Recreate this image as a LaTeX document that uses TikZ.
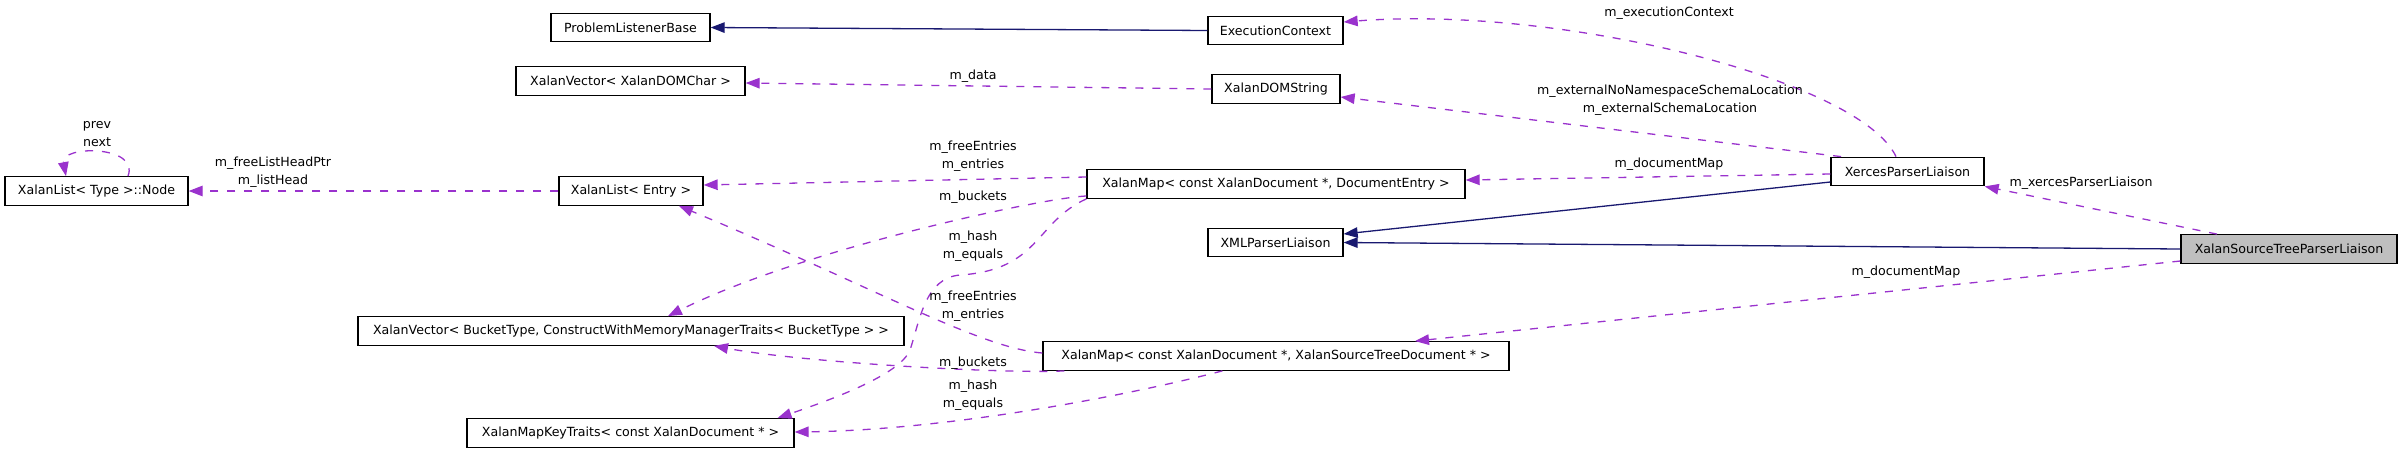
\documentclass[tikz,border=0pt]{standalone}
\usepackage{fontspec}
\setmainfont{DejaVu Sans}
\usetikzlibrary{arrows.meta}
\definecolor{edgepurple}{HTML}{9A32CD}
\definecolor{inhnavy}{HTML}{191970}
\definecolor{curgray}{HTML}{BFBFBF}
\begin{document}
\begin{tikzpicture}[x=1pt,y=-1pt,
  cls/.style={draw=black, line width=1.3pt, fill=white, minimum height=28.5pt, inner sep=0pt, font=\fontsize{12.6}{18}\selectfont},
  lbl/.style={align=center, inner sep=0pt, font=\fontsize{12.6}{18}\selectfont},
  use/.style={edgepurple, line width=1.3pt, dash pattern=on 8pt off 9pt, -{Triangle[length=14pt,width=10.5pt]}},
  inh/.style={inhnavy, line width=1.3pt, -{Triangle[length=14pt,width=10.5pt]}},
]
\useasboundingbox (0,0) rectangle (2403,453);

% classes
\node[cls, minimum width=159pt] (plb) at (630.5,27.5) {ProblemListenerBase};
\node[cls, minimum width=229pt] (xvdc) at (630.5,81) {XalanVector< XalanDOMChar >};
\node[cls, minimum width=135pt] (ec) at (1275.5,30.5) {ExecutionContext};
\node[cls, minimum width=128pt] (xds) at (1276,89) {XalanDOMString};
\node[cls, minimum width=183pt] (lnode) at (96.5,191) {XalanList< Type >::Node};
\node[cls, minimum width=144pt] (xle) at (631,191) {XalanList< Entry >};
\node[cls, minimum width=378pt] (xmde) at (1276,184) {XalanMap< const XalanDocument *, DocumentEntry >};
\node[cls, minimum width=546pt] (xvbt) at (631,331) {XalanVector< BucketType, ConstructWithMemoryManagerTraits< BucketType > >};
\node[cls, minimum width=135pt] (xmlpl) at (1275.5,242.5) {XMLParserLiaison};
\node[cls, minimum width=153pt] (xpl) at (1907.5,171.5) {XercesParserLiaison};
\node[cls, minimum width=216pt, fill=curgray] (xstpl) at (2289,249) {XalanSourceTreeParserLiaison};
\node[cls, minimum width=466pt] (xmxst) at (1276,356) {XalanMap< const XalanDocument *, XalanSourceTreeDocument * >};
\node[cls, minimum width=327pt] (xmkt) at (630.5,433) {XalanMapKeyTraits< const XalanDocument * >};

% inheritance
\draw[inh] (ec.west) -- (plb.east);
\draw[inh] ([yshift=-10.5pt]xpl.west) -- ([yshift=8.5pt]xmlpl.east);
\draw[inh] (xstpl.west) -- (xmlpl.east);

% usage
\draw[use] (xds.west) -- ([yshift=-2pt]xvdc.east);
\draw[use] ([xshift=-11.5pt]xpl.north) .. controls (1860,80) and (1560,5) .. ([yshift=8.5pt]ec.east);
\draw[use] ([xshift=-66.5pt]xpl.north) -- ([yshift=-8pt]xds.east);
\draw[use] ([yshift=-2.5pt]xpl.west) -- ([yshift=4pt]xmde.east);
\draw[use] ([xshift=-72pt]xstpl.north) -- (xpl.south east);
\draw[use] ([yshift=-12pt]xstpl.west) -- ([xshift=139pt]xmxst.north);
\draw[use] ([yshift=7pt]xmde.west) -- ([yshift=6pt]xle.east);
\draw[use] ([yshift=-12pt]xmde.west) .. controls (1040,198) and (800,250) .. ([xshift=37pt]xvbt.north);
\draw[use] (xmde.south west) .. controls (1035,222) and (1040,270) .. (960,275)
   .. controls (925,278) and (920,320) .. (910,350)
   .. controls (900,375) and (830,400) .. ([xshift=147pt]xmkt.north);
\draw[use] ([yshift=3pt]xmxst.west) .. controls (980,348) and (880,290) .. ([xshift=48pt]xle.south);
\draw[use] ([xshift=22pt]xmxst.south west) .. controls (1000,374) and (800,362) .. ([xshift=83pt]xvbt.south);
\draw[use] ([xshift=180pt]xmxst.south west) .. controls (1130,395) and (950,430) .. ([yshift=1pt]xmkt.east);
\draw[use] (xle.west) -- (lnode.east);
\draw[use] ([xshift=31.5pt]lnode.north) .. controls (140,145) and (60,145) .. ([xshift=-30.5pt]lnode.north);

% labels
\node[lbl] (l1) at (973,76) {m\_data};
\node[lbl] (l2) at (1669,13) {m\_executionContext};
\node[lbl] (l3) at (1670,100.5) {m\_externalNoNamespaceSchemaLocation\\m\_externalSchemaLocation};
\node[lbl] (l4) at (1669,164) {m\_documentMap};
\node[lbl] (l5) at (2081,183) {m\_xercesParserLiaison};
\node[lbl] (l6) at (1906,272) {m\_documentMap};
\node[lbl] (l7) at (973,156) {m\_freeEntries\\m\_entries};
\node[lbl] (l8) at (973,197) {m\_buckets};
\node[lbl] (l9) at (973,246) {m\_hash\\m\_equals};
\node[lbl] (l10) at (973,306) {m\_freeEntries\\m\_entries};
\node[lbl] (l11) at (973,363) {m\_buckets};
\node[lbl] (l12) at (973,395.5) {m\_hash\\m\_equals};
\node[lbl] (l13) at (273,172.5) {m\_freeListHeadPtr\\m\_listHead};
\node[lbl] (l14) at (97,134) {prev\\next};
\end{tikzpicture}
\end{document}
